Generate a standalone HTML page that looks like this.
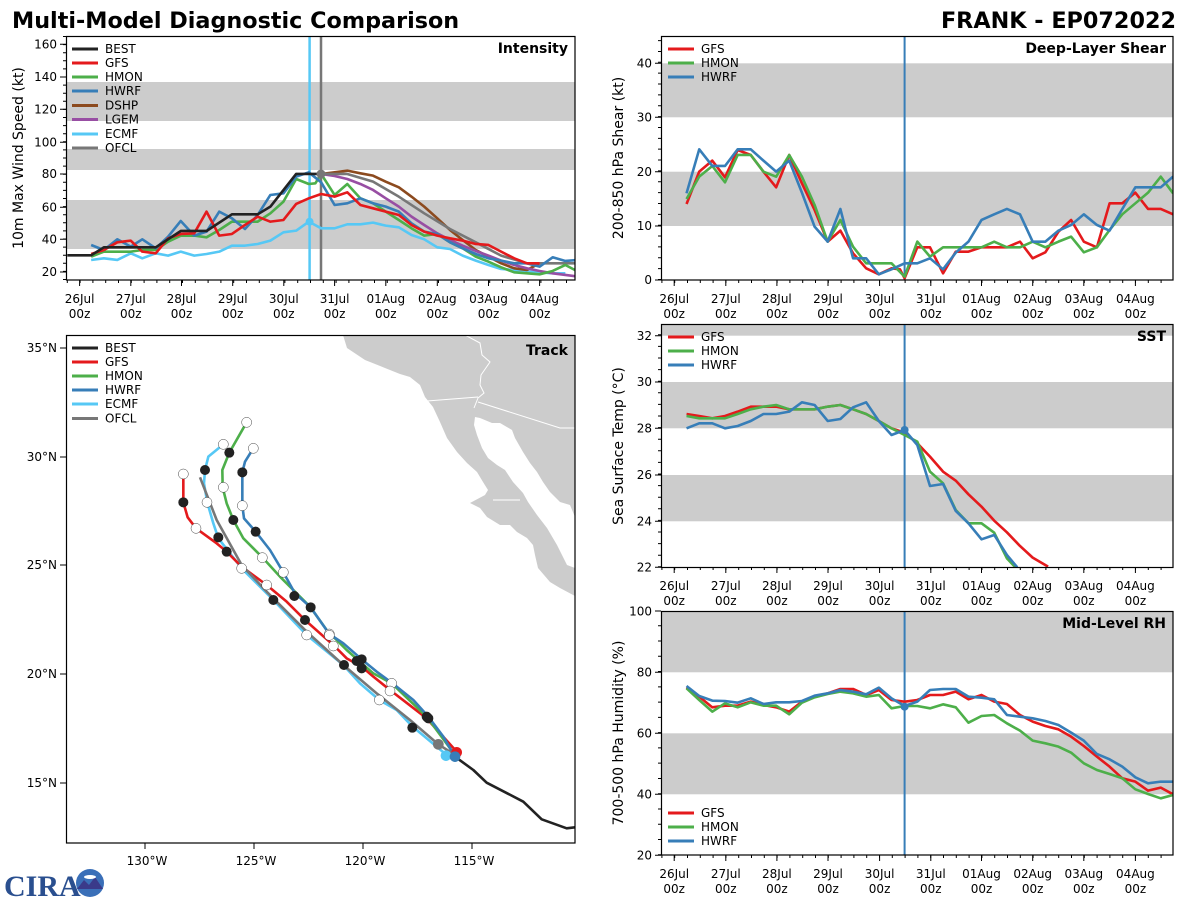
<!DOCTYPE html>
<html><head><meta charset="utf-8"><style>
html,body{margin:0;padding:0;background:#fff;}
svg{display:block;font-family:"DejaVu Sans","Liberation Sans",sans-serif;}
.t{font-size:12px;fill:#000;}
.al{font-size:14px;fill:#000;}
.pt{font-size:14px;font-weight:bold;fill:#000;}
.ln{fill:none;stroke-width:2.6;stroke-linejoin:round;vector-effect:non-scaling-stroke;}
</style></head><body>
<svg width="1200" height="900" viewBox="0 0 1200 900" xmlns="http://www.w3.org/2000/svg">
<defs>
<clipPath id="cI"><rect x="66" y="36" width="509" height="244"/></clipPath>
<clipPath id="cS"><rect x="661" y="36" width="512" height="244"/></clipPath>
<clipPath id="cT"><rect x="661" y="324" width="512" height="243"/></clipPath>
<clipPath id="cR"><rect x="661" y="611" width="512" height="244"/></clipPath>
<clipPath id="cK"><rect x="66" y="335" width="509" height="508"/></clipPath>
</defs>
<text x="12" y="28" style="font-size:22.3px;font-weight:bold">Multi-Model Diagnostic Comparison</text>
<text x="1176" y="28" text-anchor="end" style="font-size:22.3px;font-weight:bold">FRANK - EP072022</text>

<!-- ============ INTENSITY ============ -->
<g clip-path="url(#cI)">
<rect x="66" y="82" width="509" height="39" fill="#ccc"/>
<rect x="66" y="149" width="509" height="21" fill="#ccc"/>
<rect x="66" y="200" width="509" height="49" fill="#ccc"/>
<line x1="309.6" y1="36" x2="309.6" y2="280" stroke="#56c8f5" stroke-width="2.5"/>
<line x1="321" y1="36" x2="321" y2="280" stroke="#777" stroke-width="2.5"/>
<g transform="translate(0,30) scale(0.3846,0.3333)">
<polyline class="ln" stroke="#56c8f5" points="237,690 270,685 305,690 340,670 370,685 405,670 437,677 470,665 505,677 537,672 570,665 603,647 637,647 670,642 703,632 737,607 770,602 803,575 835,595 870,595 903,583 937,583 970,578 1003,587 1037,592 1070,615 1103,628 1137,652 1170,657 1203,677 1237,692 1270,705 1303,717 1337,720 1370,725 1403,727 1437,730 1470,730"/>
<polyline class="ln" stroke="#8c4a1e" points="835,432 870,427 903,422 937,430 970,437 1003,455 1037,472 1070,500 1103,530 1137,565 1170,600 1203,630 1237,660 1270,680 1303,700 1337,715 1370,720 1403,700"/>
<polyline class="ln" stroke="#984ea3" points="835,432 870,438 903,447 937,462 970,480 1003,505 1037,530 1070,560 1103,585 1137,610 1170,630 1203,647 1237,663 1270,677 1303,692 1337,705 1370,715 1403,723 1437,730 1470,735 1503,740"/>
<polyline class="ln" stroke="#777" points="835,432 903,432 970,455 1037,500 1103,550 1170,597 1237,637 1303,677 1370,700 1437,700 1503,700"/>
<polyline class="ln" stroke="#4daf4a" points="237,680 270,665 305,665 340,665 370,660 405,660 437,635 470,617 505,617 537,622 570,600 603,575 637,575 670,575 703,550 737,515 770,447 803,462 820,460 835,432 870,495 903,462 937,505 970,520 1003,545 1037,570 1070,595 1103,617 1137,612 1170,637 1203,655 1237,680 1270,695 1303,712 1337,727 1370,730 1403,733 1437,723 1470,705 1503,725"/>
<polyline class="ln" stroke="#377eb8" points="237,645 270,660 305,628 340,650 370,628 405,655 437,620 470,573 505,617 537,605 570,545 603,565 637,597 670,555 703,495 737,490 770,440 803,427 835,457 870,525 903,520 937,505 970,520 1003,530 1037,545 1070,580 1103,605 1137,612 1170,637 1203,655 1237,672 1270,685 1303,692 1337,700 1370,700 1403,710 1437,682 1470,693 1503,690"/>
<polyline class="ln" stroke="#e41a1c" points="237,672 270,660 305,637 340,632 370,665 405,670 437,625 470,612 505,610 537,545 570,617 603,612 637,585 670,560 703,575 737,570 770,522 803,505 835,492 870,500 903,487 937,525 970,535 1003,545 1037,555 1070,585 1103,605 1137,617 1170,625 1203,632 1237,642 1270,645 1303,665 1337,685 1370,700 1403,700"/>
<polyline class="ln" stroke="#222" points="175,676 237,676 270,652 405,652 470,603 537,603 603,553 670,553 703,530 770,432 835,432"/>
</g>
<circle cx="309.6" cy="221.7" r="4" fill="#56c8f5"/>
<circle cx="321" cy="174" r="4.5" fill="#777"/>
</g>
<rect x="66.5" y="36.5" width="508.5" height="243.5" fill="none" stroke="#000" stroke-width="1.2"/>
<path d="M79.6 280v6M130.8 280v6M181.5 280v6M232.7 280v6M283.8 280v6M334.6 280v6M385.8 280v6M437.3 280v6M488.5 280v6M539.6 280v6M66 272h-6M66 239.3h-6M66 207.3h-6M66 174h-6M66 142.3h-6M66 109.3h-6M66 77h-6M66 44.3h-6" stroke="#000" stroke-width="1"/>
<line x1="66.8" y1="281.5" x2="575" y2="281.5" stroke="#000" stroke-width="3" stroke-dasharray="1 11.8"/>
<line x1="64.5" y1="280" x2="64.5" y2="36" stroke="#000" stroke-width="3" stroke-dasharray="1 7.1"/>
<g class="t" text-anchor="end"><text x="57" y="276">20</text><text x="57" y="243.5">40</text><text x="57" y="211.5">60</text><text x="57" y="178">80</text><text x="57" y="146.5">100</text><text x="57" y="113.5">120</text><text x="57" y="81">140</text><text x="57" y="48.5">160</text></g>
<g class="t" text-anchor="middle">
<text x="79.6" y="303">26Jul</text><text x="79.6" y="318">00z</text>
<text x="130.8" y="303">27Jul</text><text x="130.8" y="318">00z</text>
<text x="181.5" y="303">28Jul</text><text x="181.5" y="318">00z</text>
<text x="232.7" y="303">29Jul</text><text x="232.7" y="318">00z</text>
<text x="283.8" y="303">30Jul</text><text x="283.8" y="318">00z</text>
<text x="334.6" y="303">31Jul</text><text x="334.6" y="318">00z</text>
<text x="385.8" y="303">01Aug</text><text x="385.8" y="318">00z</text>
<text x="437.3" y="303">02Aug</text><text x="437.3" y="318">00z</text>
<text x="488.5" y="303">03Aug</text><text x="488.5" y="318">00z</text>
<text x="539.6" y="303">04Aug</text><text x="539.6" y="318">00z</text>
</g>
<text class="al" transform="translate(23,158) rotate(-90)" text-anchor="middle">10m Max Wind Speed (kt)</text>
<text class="pt" x="568" y="53" text-anchor="end">Intensity</text>
<g stroke-width="3">
<line x1="72" y1="49" x2="98" y2="49" stroke="#222"/><line x1="72" y1="63" x2="98" y2="63" stroke="#e41a1c"/><line x1="72" y1="77" x2="98" y2="77" stroke="#4daf4a"/><line x1="72" y1="91" x2="98" y2="91" stroke="#377eb8"/><line x1="72" y1="105.5" x2="98" y2="105.5" stroke="#8c4a1e"/><line x1="72" y1="119.5" x2="98" y2="119.5" stroke="#984ea3"/><line x1="72" y1="134" x2="98" y2="134" stroke="#56c8f5"/><line x1="72" y1="148" x2="98" y2="148" stroke="#777"/>
</g>
<g class="t"><text x="105" y="53">BEST</text><text x="105" y="67">GFS</text><text x="105" y="81">HMON</text><text x="105" y="95">HWRF</text><text x="105" y="109.5">DSHP</text><text x="105" y="123.5">LGEM</text><text x="105" y="138">ECMF</text><text x="105" y="152">OFCL</text></g>

<!-- ============ SHEAR ============ -->
<g clip-path="url(#cS)">
<rect x="661" y="63.3" width="512" height="54" fill="#ccc"/>
<rect x="661" y="171.7" width="512" height="54.3" fill="#ccc"/>
<line x1="904.6" y1="36" x2="904.6" y2="280" stroke="#377eb8" stroke-width="2"/>
<g transform="translate(600,30) scale(0.3846,0.3333)">
<polyline class="ln" stroke="#e41a1c" points="225,522 258,425 292,392 325,442 358,360 392,375 425,425 458,472 492,375 525,460 558,540 592,635 625,602 658,670 692,715 725,733 758,715 780,718 792,745 825,652 858,652 892,730 925,665 958,665 992,652 1025,652 1058,652 1092,635 1125,685 1158,667 1192,605 1225,570 1258,635 1292,652 1325,520 1358,520 1392,488 1425,537 1458,537 1490,553"/>
<polyline class="ln" stroke="#4daf4a" points="225,507 258,440 292,408 325,457 358,375 392,375 425,425 458,440 492,375 525,440 558,525 592,635 625,570 658,650 692,700 725,700 758,700 792,740 825,635 858,680 892,652 925,652 958,652 992,652 1025,635 1058,652 1092,652 1125,635 1158,652 1192,635 1225,620 1258,667 1292,652 1325,600 1358,553 1392,520 1425,488 1458,440 1490,490"/>
<polyline class="ln" stroke="#377eb8" points="225,490 258,358 292,408 325,408 358,358 392,358 425,392 458,425 492,392 525,488 558,590 592,635 625,537 658,685 692,685 725,733 758,718 792,700 825,700 858,685 892,718 925,668 958,635 992,570 1025,553 1058,537 1092,553 1125,635 1158,635 1192,602 1225,585 1258,553 1292,585 1325,602 1358,537 1392,472 1425,472 1458,472 1490,440"/>
</g>
</g>
<rect x="661.5" y="36.5" width="511.5" height="243.5" fill="none" stroke="#000" stroke-width="1.2"/>
<path d="M674.2 280v6M725.8 280v6M776.9 280v6M828 280v6M879.6 280v6M930.8 280v6M981.5 280v6M1032.7 280v6M1083.8 280v6M1135.4 280v6M661 280h-6M661 226h-6M661 171.7h-6M661 117.3h-6M661 63.3h-6" stroke="#000"/>
<line x1="661.4" y1="281.5" x2="1173" y2="281.5" stroke="#000" stroke-width="3" stroke-dasharray="1 11.8"/>
<line x1="659.5" y1="280" x2="659.5" y2="36" stroke="#000" stroke-width="3" stroke-dasharray="1 9.86"/>
<g class="t" text-anchor="end"><text x="652" y="284">0</text><text x="652" y="230">10</text><text x="652" y="176">20</text><text x="652" y="121.5">30</text><text x="652" y="67.5">40</text></g>
<g class="t" text-anchor="middle">
<text x="674.2" y="303">26Jul</text><text x="674.2" y="318">00z</text>
<text x="725.8" y="303">27Jul</text><text x="725.8" y="318">00z</text>
<text x="776.9" y="303">28Jul</text><text x="776.9" y="318">00z</text>
<text x="828" y="303">29Jul</text><text x="828" y="318">00z</text>
<text x="879.6" y="303">30Jul</text><text x="879.6" y="318">00z</text>
<text x="930.8" y="303">31Jul</text><text x="930.8" y="318">00z</text>
<text x="981.5" y="303">01Aug</text><text x="981.5" y="318">00z</text>
<text x="1032.7" y="303">02Aug</text><text x="1032.7" y="318">00z</text>
<text x="1083.8" y="303">03Aug</text><text x="1083.8" y="318">00z</text>
<text x="1135.4" y="303">04Aug</text><text x="1135.4" y="318">00z</text>
</g>
<text class="al" transform="translate(623,158) rotate(-90)" text-anchor="middle">200-850 hPa Shear (kt)</text>
<text class="pt" x="1166" y="53" text-anchor="end">Deep-Layer Shear</text>
<g stroke-width="3"><line x1="668" y1="49" x2="694" y2="49" stroke="#e41a1c"/><line x1="668" y1="63" x2="694" y2="63" stroke="#4daf4a"/><line x1="668" y1="77" x2="694" y2="77" stroke="#377eb8"/></g>
<g class="t"><text x="701" y="53">GFS</text><text x="701" y="67">HMON</text><text x="701" y="81">HWRF</text></g>

<!-- ============ SST ============ -->
<g clip-path="url(#cT)">
<rect x="661" y="324" width="512" height="11.7" fill="#ccc"/>
<rect x="661" y="382" width="512" height="46.3" fill="#ccc"/>
<rect x="661" y="475" width="512" height="46.3" fill="#ccc"/>
<line x1="904.6" y1="324" x2="904.6" y2="567" stroke="#377eb8" stroke-width="2"/>
<g transform="translate(600,310) scale(0.3846,0.3333)">
<polyline class="ln" stroke="#e41a1c" points="225,312 258,318 292,325 325,318 358,305 392,290 425,290 458,290 492,298 525,298 558,298 592,290 625,285 658,298 692,312 725,333 758,355 792,368 825,400 858,440 892,485 925,512 958,553 992,590 1025,632 1058,667 1092,708 1125,743 1165,770"/>
<polyline class="ln" stroke="#4daf4a" points="225,318 258,325 292,325 325,325 358,312 392,298 425,290 458,285 492,298 525,298 558,298 592,290 625,285 658,298 692,312 725,333 758,355 792,375 825,395 858,485 892,520 925,600 958,640 992,640 1025,668 1058,745 1080,772"/>
<polyline class="ln" stroke="#377eb8" points="225,355 258,340 292,340 325,355 358,348 392,333 425,312 458,312 492,305 525,277 558,285 592,333 625,327 658,292 692,277 725,333 758,375 792,360 825,405 858,528 892,522 925,603 958,640 992,688 1025,675 1058,735 1085,772"/>
</g>
<circle cx="904.6" cy="430" r="4" fill="#377eb8"/>
</g>
<rect x="661.5" y="324.5" width="511.5" height="243" fill="none" stroke="#000" stroke-width="1.2"/>
<path d="M674.2 567v6M725.8 567v6M776.9 567v6M828 567v6M879.6 567v6M930.8 567v6M981.5 567v6M1032.7 567v6M1083.8 567v6M1135.4 567v6M661 567.3h-6M661 521.3h-6M661 475h-6M661 428.3h-6M661 382h-6M661 335.7h-6" stroke="#000"/>
<line x1="661.4" y1="568.5" x2="1173" y2="568.5" stroke="#000" stroke-width="3" stroke-dasharray="1 11.8"/>
<line x1="659.5" y1="567.3" x2="659.5" y2="324" stroke="#000" stroke-width="3" stroke-dasharray="1 10.6"/>
<g class="t" text-anchor="end"><text x="652" y="571.5">22</text><text x="652" y="525.5">24</text><text x="652" y="479">26</text><text x="652" y="432.5">28</text><text x="652" y="386">30</text><text x="652" y="340">32</text></g>
<g class="t" text-anchor="middle">
<text x="674.2" y="590">26Jul</text><text x="674.2" y="605">00z</text>
<text x="725.8" y="590">27Jul</text><text x="725.8" y="605">00z</text>
<text x="776.9" y="590">28Jul</text><text x="776.9" y="605">00z</text>
<text x="828" y="590">29Jul</text><text x="828" y="605">00z</text>
<text x="879.6" y="590">30Jul</text><text x="879.6" y="605">00z</text>
<text x="930.8" y="590">31Jul</text><text x="930.8" y="605">00z</text>
<text x="981.5" y="590">01Aug</text><text x="981.5" y="605">00z</text>
<text x="1032.7" y="590">02Aug</text><text x="1032.7" y="605">00z</text>
<text x="1083.8" y="590">03Aug</text><text x="1083.8" y="605">00z</text>
<text x="1135.4" y="590">04Aug</text><text x="1135.4" y="605">00z</text>
</g>
<text class="al" transform="translate(623,446) rotate(-90)" text-anchor="middle">Sea Surface Temp (°C)</text>
<text class="pt" x="1166" y="341" text-anchor="end">SST</text>
<g stroke-width="3"><line x1="668" y1="337" x2="694" y2="337" stroke="#e41a1c"/><line x1="668" y1="351" x2="694" y2="351" stroke="#4daf4a"/><line x1="668" y1="365" x2="694" y2="365" stroke="#377eb8"/></g>
<g class="t"><text x="701" y="341">GFS</text><text x="701" y="355">HMON</text><text x="701" y="369">HWRF</text></g>

<!-- ============ RH ============ -->
<g clip-path="url(#cR)">
<rect x="661" y="611" width="512" height="61.3" fill="#ccc"/>
<rect x="661" y="733.3" width="512" height="61" fill="#ccc"/>
<line x1="904.6" y1="611" x2="904.6" y2="855" stroke="#377eb8" stroke-width="2"/>
<g transform="translate(600,600) scale(0.3846,0.3333)">
<polyline class="ln" stroke="#e41a1c" points="225,262 258,290 292,322 325,317 358,317 392,305 425,315 458,322 492,335 525,305 558,290 592,280 625,267 658,267 692,285 725,270 758,300 792,305 825,300 858,285 892,285 925,275 958,298 992,285 1025,305 1058,312 1092,345 1125,365 1158,378 1192,388 1225,410 1258,438 1292,470 1325,500 1358,535 1392,545 1425,572 1458,563 1490,583"/>
<polyline class="ln" stroke="#4daf4a" points="225,265 258,300 292,335 325,310 358,322 392,307 425,317 458,317 492,343 525,308 558,292 592,282 625,275 658,280 692,290 725,285 758,325 792,318 825,318 858,325 892,313 925,322 958,368 992,348 1025,345 1058,370 1092,392 1125,422 1158,430 1192,440 1225,458 1258,490 1292,510 1325,522 1358,535 1392,568 1425,582 1458,595 1490,585"/>
<polyline class="ln" stroke="#377eb8" points="225,258 258,288 292,302 325,303 358,308 392,295 425,312 458,307 492,307 525,303 558,287 592,280 625,270 658,275 692,283 725,263 758,295 792,318 825,305 858,270 892,267 925,267 958,290 992,293 1025,298 1058,345 1092,350 1125,355 1158,363 1192,375 1225,398 1258,422 1292,462 1325,478 1358,500 1392,532 1425,550 1458,545 1490,545"/>
</g>
<circle cx="904.6" cy="706.7" r="4" fill="#377eb8"/>
</g>
<rect x="661.5" y="611.5" width="511.5" height="243.5" fill="none" stroke="#000" stroke-width="1.2"/>
<path d="M674.2 855v6M725.8 855v6M776.9 855v6M828 855v6M879.6 855v6M930.8 855v6M981.5 855v6M1032.7 855v6M1083.8 855v6M1135.4 855v6M661 855.3h-6M661 794.3h-6M661 733.3h-6M661 672.3h-6M661 611h-6" stroke="#000"/>
<line x1="661.4" y1="856.5" x2="1173" y2="856.5" stroke="#000" stroke-width="3" stroke-dasharray="1 11.8"/>
<line x1="659.5" y1="855.3" x2="659.5" y2="611" stroke="#000" stroke-width="3" stroke-dasharray="1 14.27"/>
<g class="t" text-anchor="end"><text x="652" y="859.5">20</text><text x="652" y="798.5">40</text><text x="652" y="737.5">60</text><text x="652" y="676.5">80</text><text x="652" y="615.5">100</text></g>
<g class="t" text-anchor="middle">
<text x="674.2" y="878">26Jul</text><text x="674.2" y="893">00z</text>
<text x="725.8" y="878">27Jul</text><text x="725.8" y="893">00z</text>
<text x="776.9" y="878">28Jul</text><text x="776.9" y="893">00z</text>
<text x="828" y="878">29Jul</text><text x="828" y="893">00z</text>
<text x="879.6" y="878">30Jul</text><text x="879.6" y="893">00z</text>
<text x="930.8" y="878">31Jul</text><text x="930.8" y="893">00z</text>
<text x="981.5" y="878">01Aug</text><text x="981.5" y="893">00z</text>
<text x="1032.7" y="878">02Aug</text><text x="1032.7" y="893">00z</text>
<text x="1083.8" y="878">03Aug</text><text x="1083.8" y="893">00z</text>
<text x="1135.4" y="878">04Aug</text><text x="1135.4" y="893">00z</text>
</g>
<text class="al" transform="translate(623,733) rotate(-90)" text-anchor="middle">700-500 hPa Humidity (%)</text>
<text class="pt" x="1166" y="628" text-anchor="end">Mid-Level RH</text>
<g stroke-width="3"><line x1="668" y1="813" x2="694" y2="813" stroke="#e41a1c"/><line x1="668" y1="827" x2="694" y2="827" stroke="#4daf4a"/><line x1="668" y1="841" x2="694" y2="841" stroke="#377eb8"/></g>
<g class="t"><text x="701" y="817">GFS</text><text x="701" y="831">HMON</text><text x="701" y="845">HWRF</text></g>

<!-- ============ TRACK ============ -->
<g clip-path="url(#cK)">
<polygon fill="#ccc" points="343,335 347,348 365,360 385,368 400,374 410,377 420,385 425,397 433,407 440,422 447,438 457,452 467,463 477,472 483,482 488,490 485,495 470,503 480,508 487,517 500,525 510,525 517,532 527,538 533,545 535,555 538,568 550,582 560,588 575,596 575,335"/>
<polygon fill="#fff" points="475,417 480,418 492,423 500,423 512,430 515,438 523,452 530,463 537,472 543,482 550,492 560,502 570,505 575,517 575,568 567,565 557,545 547,528 537,515 528,502 523,493 513,482 505,470 497,465 488,458 482,448 477,435 474,425"/>
<g fill="none" stroke="#fff" stroke-width="1">
<polyline points="465,335 480,343 482,355 490,362 481,375 480,385 484,393 478,398 474,408"/>
<polyline points="427,401 478,397"/>
<polyline points="478,402 560,428 575,428"/>
<polyline points="493,500 520,500"/>
</g>
<g transform="translate(60,330) scale(0.33333)">
<polyline class="ln" stroke="#222" points="1185,1280 1240,1320 1280,1358 1390,1415 1445,1468 1520,1495 1560,1490"/>
<polyline class="ln" stroke="#56c8f5" points="490,343 445,380 435,420 432,460 442,518 460,580 475,625 545,715 640,810 740,915 850,1005 900,1060 958,1110 1010,1140 1058,1190 1160,1275"/>
<polyline class="ln" stroke="#e41a1c" points="370,432 370,517 383,562 408,595 470,640 500,665 545,710 620,765 680,815 735,870 780,910 820,945 860,985 905,1010 940,1040 990,1080 1100,1165 1190,1265"/>
<polyline class="ln" stroke="#4daf4a" points="560,277 508,368 487,420 488,472 500,520 520,570 550,625 605,680 660,740 750,830 800,900 860,960 905,1000 940,1030 995,1060 1100,1160 1185,1275"/>
<polyline class="ln" stroke="#377eb8" points="580,355 555,395 547,427 547,527 552,565 587,605 630,660 670,727 705,790 752,832 808,912 850,940 905,988 950,1025 995,1058 1060,1110 1105,1160 1150,1220 1185,1280"/>
<polyline class="ln" stroke="#777" points="420,442 470,570 545,705 620,785 740,905 850,1005 950,1090 1050,1170 1135,1243 1185,1275"/>
<g fill="#222">
<circle cx="370" cy="517" r="15"/><circle cx="435" cy="420" r="15"/><circle cx="508" cy="368" r="15"/><circle cx="547" cy="427" r="15"/><circle cx="520" cy="570" r="15"/><circle cx="475" cy="622" r="15"/><circle cx="500" cy="665" r="15"/><circle cx="587" cy="605" r="15"/><circle cx="703" cy="798" r="15"/><circle cx="752" cy="832" r="15"/><circle cx="640" cy="810" r="15"/><circle cx="735" cy="870" r="15"/><circle cx="852" cy="1005" r="15"/><circle cx="890" cy="993" r="15"/><circle cx="905" cy="988" r="15"/><circle cx="905" cy="1015" r="15"/><circle cx="1100" cy="1160" r="15"/><circle cx="1105" cy="1165" r="15"/><circle cx="1057" cy="1193" r="15"/>
</g>
<g fill="#fff" stroke="#222" stroke-width="1.3" style="vector-effect:non-scaling-stroke">
<circle cx="370" cy="432" r="15"/><circle cx="560" cy="277" r="15"/><circle cx="490" cy="343" r="15"/><circle cx="580" cy="355" r="15"/><circle cx="490" cy="472" r="15"/><circle cx="441" cy="517" r="15"/><circle cx="547" cy="527" r="15"/><circle cx="408" cy="595" r="15"/><circle cx="607" cy="683" r="15"/><circle cx="545" cy="715" r="15"/><circle cx="670" cy="727" r="15"/><circle cx="620" cy="765" r="15"/><circle cx="808" cy="912" r="15"/><circle cx="808" cy="916" r="15"/><circle cx="820" cy="948" r="15"/><circle cx="740" cy="915" r="15"/><circle cx="995" cy="1060" r="15"/><circle cx="990" cy="1083" r="15"/><circle cx="958" cy="1110" r="15"/>
</g>
<circle cx="1135" cy="1243" r="16" fill="#777"/>
<circle cx="1190" cy="1267" r="16" fill="#e41a1c"/>
<circle cx="1158" cy="1277" r="16" fill="#56c8f5"/>
<circle cx="1185" cy="1280" r="16" fill="#377eb8"/>
</g>
</g>
<rect x="66.5" y="335.5" width="508.5" height="507.5" fill="none" stroke="#000" stroke-width="1.2"/>
<path d="M145 843v6M254 843v6M363 843v6M472 843v6M66 348h-6M66 457h-6M66 565h-6M66 674h-6M66 783h-6" stroke="#000"/>
<g class="t" text-anchor="end"><text x="57" y="352">35°N</text><text x="57" y="461">30°N</text><text x="57" y="569">25°N</text><text x="57" y="678">20°N</text><text x="57" y="787">15°N</text></g>
<g class="t" text-anchor="middle"><text x="147" y="865">130°W</text><text x="256" y="865">125°W</text><text x="365" y="865">120°W</text><text x="474" y="865">115°W</text></g>
<text class="pt" x="568" y="355" text-anchor="end">Track</text>
<g stroke-width="3">
<line x1="72" y1="348" x2="98" y2="348" stroke="#222"/><line x1="72" y1="362" x2="98" y2="362" stroke="#e41a1c"/><line x1="72" y1="376" x2="98" y2="376" stroke="#4daf4a"/><line x1="72" y1="390" x2="98" y2="390" stroke="#377eb8"/><line x1="72" y1="404" x2="98" y2="404" stroke="#56c8f5"/><line x1="72" y1="418.5" x2="98" y2="418.5" stroke="#777"/>
</g>
<g class="t"><text x="105" y="352">BEST</text><text x="105" y="366">GFS</text><text x="105" y="380">HMON</text><text x="105" y="394">HWRF</text><text x="105" y="408">ECMF</text><text x="105" y="422.5">OFCL</text></g>

<!-- logo -->
<text x="4" y="896" style="font-size:30px;font-weight:bold;fill:#2a4f8f;font-family:'Liberation Serif',serif">CIRA</text>
<circle cx="90" cy="883" r="14" fill="#3a6fb8"/>
<path d="M77 889 L84 880 L89 885 L95 877 L103 889 Z" fill="#3a3a8a"/>
<ellipse cx="90" cy="877" rx="6" ry="2" fill="#fff"/>
</svg>
</body></html>
